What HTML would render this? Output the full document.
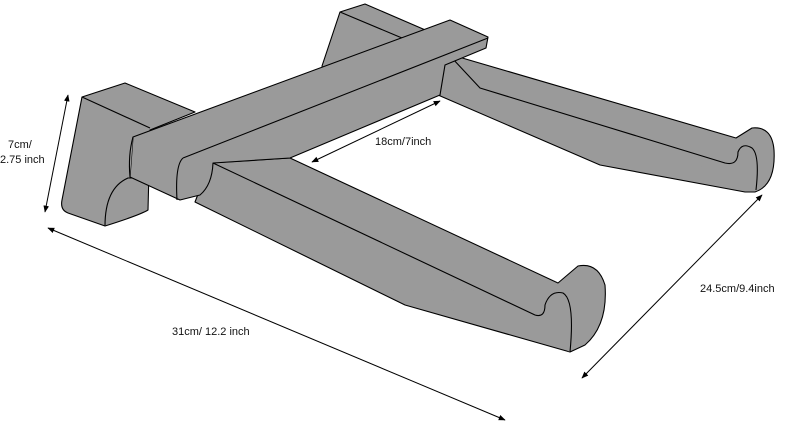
<!DOCTYPE html>
<html><head><meta charset="utf-8"><style>
html,body{margin:0;padding:0;background:#fff;}
svg{display:block}
text{font-family:"Liberation Sans",sans-serif;font-size:11px;fill:#111}
</style></head><body>
<svg width="800" height="424" viewBox="0 0 800 424" xmlns="http://www.w3.org/2000/svg">
<defs><marker id="a" viewBox="0 0 10 10" refX="9" refY="5" markerWidth="7" markerHeight="7" orient="auto-start-reverse"><path d="M0,1 L10,5 L0,9 z" fill="#000"/></marker></defs>
<g fill="#9a9a9a" stroke="#000" stroke-width="1.1" stroke-linejoin="round">
<!-- back block -->
<path d="M340,12 L365,4 L430,32 L420,90 L330,110 L322,66 Z"/>
<path d="M340,12 L402,38"/>
<!-- back leg -->
<path d="M440,58 L452,55 L736,138 L752,128 Q772,126 774,150 Q776,185 755,192 L745,192 L600,165 L438,95 Z"/>
<path d="M452,58 L480,88 L725,163 Q738,166 738,152 Q742,142 752,148 Q760,155 756,190"/>
<!-- front leg -->
<path d="M210,163 L290,158 L558,283 L578,266 Q598,262 605,285 Q608,325 585,345 L570,352 L405,305 L195,202 Z"/>
<path d="M213,163 L535,315 Q545,318 545,305 Q550,290 563,293 Q575,300 570,352"/>
<!-- left block -->
<path d="M82,97 L125,83 L195,112 L150,130 L148,210 Q140,215 105,226 L68,213 Q60,210 62,200 Z"/>
<path d="M82,97 L150,128"/>
<path d="M105,226 Q105,188 128,178 L150,178"/>
<!-- crossbar -->
<path d="M133,137 L450,20 L488,37 L486,48 L445,65 L440,95 L290,158 L213,163 Q212,185 200,195 L180,200 L130,177 Z"/>
<path d="M183,158 L488,38"/>
<path d="M183,158 Q175,165 177,200"/>
<path d="M133,137 Q128,155 130,177"/>
</g>
<g stroke="#000" stroke-width="1" fill="none">
<line x1="68" y1="95" x2="45" y2="212" marker-start="url(#a)" marker-end="url(#a)"/>
<line x1="48" y1="228" x2="505" y2="420" marker-start="url(#a)" marker-end="url(#a)"/>
<line x1="312" y1="162" x2="440" y2="101" marker-start="url(#a)" marker-end="url(#a)"/>
<line x1="582" y1="378" x2="762" y2="195" marker-start="url(#a)" marker-end="url(#a)"/>
</g>
<text x="8" y="148">7cm/</text>
<text x="0" y="163">2.75 inch</text>
<text x="375" y="145">18cm/7inch</text>
<text x="700" y="292">24.5cm/9.4inch</text>
<text x="172" y="335">31cm/ 12.2 inch</text>
</svg>
</body></html>
